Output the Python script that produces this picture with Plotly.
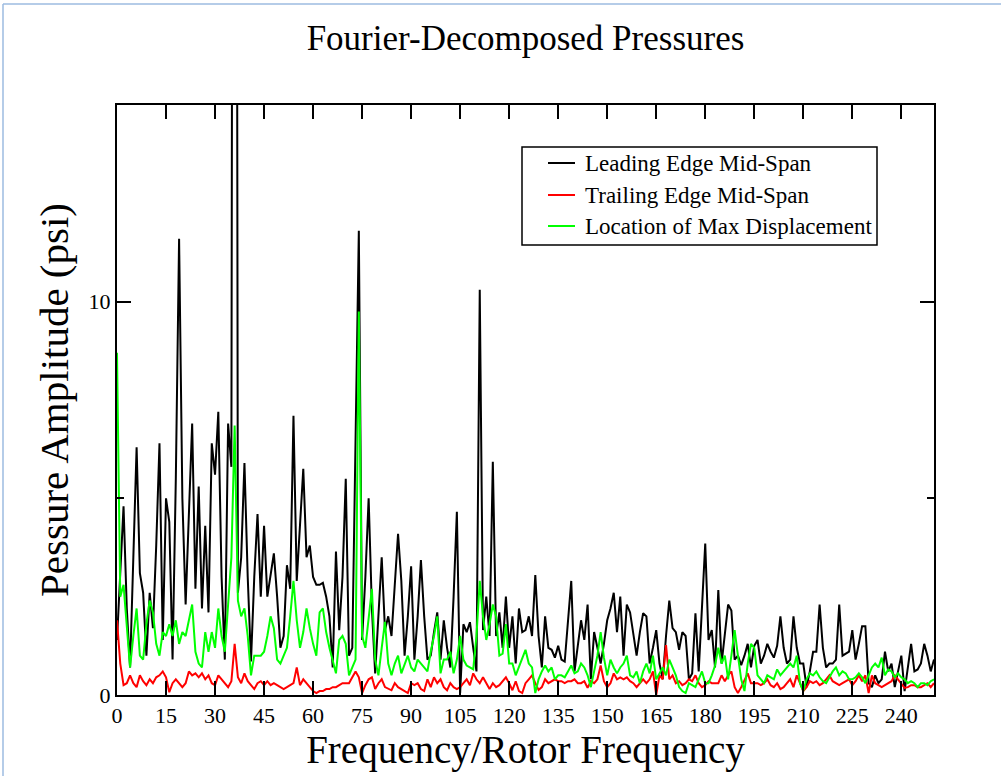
import plotly.graph_objects as go

# Frequency bins (Frequency / Rotor Frequency)
freq = list(range(0, 251))

# Leading Edge Mid-Span (psi)
leading_edge = [
    1.4, 3.0, 4.8, 2.2, 0.7, 3.5, 6.3, 3.1, 2.6, 1.0,
    2.6, 1.7, 3.8, 6.4, 1.4, 5.0, 4.4, 0.9, 5.5, 11.6,
    5.0, 2.3, 4.5, 6.9, 2.7, 5.3, 2.2, 4.3, 2.1, 6.4,
    5.6, 7.2, 3.0, 0.9, 6.9, 5.8, 60.0, 2.6, 3.5, 5.9,
    3.0, 0.85, 3.0, 4.6, 2.5, 4.3, 2.5, 3.0, 3.6, 2.5,
    1.2, 1.5, 3.3, 2.7, 7.1, 2.9, 4.2, 5.75, 3.5, 3.8,
    3.0, 2.8, 2.8, 2.85, 2.5, 2.0, 0.7, 3.65, 1.65, 3.0,
    5.5, 1.0, 1.2, 6.0, 11.8, 1.4, 3.0, 5.0, 2.2, 0.55,
    2.0, 3.5, 1.65, 2.0, 1.5, 2.8, 4.1, 2.9, 1.0, 2.0,
    3.27, 0.9, 2.0, 3.43, 2.0, 0.9, 1.0, 1.6, 2.1, 0.9,
    1.9, 1.2, 0.7, 2.5, 4.66, 0.05, 1.8, 1.6, 1.85, 1.2,
    0.6, 10.3, 1.65, 2.5, 1.5, 5.93, 1.5, 2.1, 1.2, 2.5,
    1.2, 2.0, 0.8, 2.2, 1.6, 1.65, 2.0, 1.5, 3.05, 1.5,
    0.7, 2.0, 1.2, 1.15, 0.95, 1.25, 0.9, 0.85, 2.0, 2.9,
    0.6, 1.3, 1.9, 1.4, 2.3, 0.4, 1.6, 1.2, 0.8, 1.3,
    1.9, 2.2, 2.6, 1.6, 2.5, 1.0, 2.3, 2.1, 1.5, 1.0,
    1.6, 2.08, 2.0, 0.8, 1.2, 1.65, 0.8, 0.4, 1.5, 2.4,
    1.7, 1.6, 1.15, 1.6, 1.5, 0.4, 0.55, 2.08, 0.6, 2.25,
    3.85, 1.4, 1.65, 0.7, 2.67, 0.8, 1.5, 2.3, 2.15, 0.9,
    1.0, 0.76, 1.0, 1.3, 0.7, 1.25, 1.4, 0.8, 1.0, 1.3,
    1.1, 0.95, 1.25, 2.0, 1.2, 0.8, 0.9, 2.0, 1.2, 0.8,
    0.8, 0.2, 0.6, 1.1, 1.1, 2.3, 1.2, 0.7, 0.8, 0.8,
    0.9, 2.3, 1.0, 1.05, 1.1, 1.65, 0.9, 1.3, 1.75, 1.75,
    0.3, 0.2, 0.5, 0.3, 0.4, 1.1, 0.6, 0.8, 0.2, 0.6,
    1.0, 0.1, 0.7, 1.3, 0.6, 0.65, 0.8, 1.3, 1.0, 0.6,
    0.9,
]

# Trailing Edge Mid-Span (psi)
trailing_edge = [
    1.9, 0.8, 0.25, 0.3, 0.5, 0.3, 0.2, 0.5, 0.35, 0.25,
    0.4, 0.3, 0.45, 0.5, 0.6, 0.45, 0.07, 0.3, 0.4, 0.3,
    0.2, 0.3, 0.6, 0.5, 0.55, 0.45, 0.55, 0.4, 0.5, 0.3,
    0.25, 0.5, 0.4, 0.3, 0.2, 0.35, 1.3, 0.45, 0.3, 0.55,
    0.35, 0.25, 0.15, 0.3, 0.35, 0.25, 0.35, 0.25, 0.3, 0.25,
    0.2, 0.15, 0.2, 0.25, 0.3, 0.7, 0.25, 0.4, 0.3, 0.2,
    0.1, 0.05, 0.1, 0.1, 0.15, 0.15, 0.2, 0.2, 0.25, 0.3,
    0.3, 0.3, 0.45, 0.6, 0.45, 0.05, 0.25, 0.4, 0.45, 0.15,
    0.3, 0.4, 0.2, 0.15, 0.12, 0.3, 0.2, 0.15, 0.1, 0.05,
    0.3, 0.25, 0.3, 0.15, 0.1, 0.4, 0.2, 0.45, 0.3, 0.4,
    0.2, 0.12, 0.3, 0.2, 0.15, 0.2, 0.3, 0.4, 0.25, 0.55,
    0.4, 0.3, 0.45, 0.3, 0.15, 0.3, 0.2, 0.25, 0.35, 0.45,
    0.3, 0.12, 0.35, 0.1, 0.05, 0.3, 0.4, 0.5, 0.3, 0.13,
    0.2, 0.4, 0.3, 0.35, 0.4, 0.35, 0.35, 0.3, 0.35, 0.35,
    0.4, 0.3, 0.3, 0.35, 0.18, 0.35, 0.3, 0.4, 0.75, 0.35,
    0.2, 0.3, 0.55, 0.4, 0.45, 0.4, 0.45, 0.35, 0.3, 0.2,
    0.3, 0.4, 0.3, 0.4, 0.6, 0.0, 0.5, 0.4, 1.27, 0.4,
    0.5, 0.3, 0.35, 0.25, 0.3, 0.4, 0.35, 0.5, 0.3, 0.2,
    0.25, 0.35, 0.3, 0.3, 0.3, 0.5, 0.35, 0.5, 0.6, 0.2,
    0.05, 0.2, 0.4, 0.55, 0.3, 0.3, 0.3, 0.25, 0.3, 0.4,
    0.25, 0.2, 0.3, 0.15, 0.2, 0.3, 0.4, 0.2, 0.5, 0.3,
    0.1, 0.2, 0.35, 0.3, 0.35, 0.25, 0.3, 0.4, 0.5, 0.35,
    0.3, 0.25, 0.3, 0.35, 0.4, 0.25, 0.35, 0.5, 0.35, 0.5,
    0.05, 0.5, 0.3, 0.25, 0.2, 0.25, 0.3, 0.35, 0.5, 0.4,
    0.3, 0.18, 0.2, 0.25, 0.25, 0.2, 0.2, 0.25, 0.3, 0.2,
    0.3,
]

# Location of Max Displacement (psi)
max_displacement = [
    8.7, 2.5, 2.8, 1.8, 0.7, 1.5, 2.2, 1.0, 0.9, 1.8,
    2.4, 2.1, 1.3, 1.0, 1.6, 1.5, 1.8, 1.5, 1.9, 1.3,
    1.6, 1.5, 1.9, 2.3, 1.1, 0.8, 0.7, 1.6, 1.1, 1.6,
    1.2, 2.2, 1.5, 1.1, 2.3, 3.5, 6.85, 2.4, 2.0, 2.2,
    1.5, 0.5, 1.0, 1.0, 1.0, 1.1, 1.5, 2.0, 1.7, 0.9,
    0.8, 1.0, 1.2, 2.0, 2.9, 1.9, 1.2, 1.6, 2.2, 1.7,
    1.3, 1.0, 2.1, 2.2, 1.6, 1.2, 0.9, 0.55, 1.4, 1.5,
    1.3, 0.5, 0.7, 0.9, 9.75, 1.5, 1.2, 2.0, 2.7, 0.9,
    0.5, 1.2, 1.86, 0.8, 0.5, 0.8, 1.0, 0.55, 0.8, 1.0,
    0.7, 0.6, 0.9, 0.8, 0.7, 0.6, 1.1, 1.5, 2.0, 0.55,
    0.9, 0.9, 1.1, 0.55, 0.9, 1.5, 0.9, 0.75, 0.7, 0.65,
    1.5, 2.9, 2.0, 1.4, 1.8, 2.3, 2.0, 1.0, 1.05, 1.8,
    0.8, 0.8, 0.5, 0.7, 0.9, 1.15, 0.8, 0.7, 0.05, 0.4,
    0.6, 0.75, 0.6, 0.7, 0.4, 0.5, 0.5, 0.45, 0.6, 0.75,
    0.55, 0.6, 0.8, 0.7, 0.5, 0.2, 0.6, 1.0, 1.6, 0.95,
    0.5, 0.9, 0.7, 0.55, 0.7, 0.8, 1.0, 0.5, 0.45, 0.6,
    0.3, 0.6, 0.8, 0.55, 1.0, 0.4, 0.55, 0.7, 0.5, 0.9,
    0.7, 0.5, 0.2, 0.1, 0.05, 0.3, 0.25, 0.2, 0.4, 0.6,
    0.3, 0.3, 0.5, 0.75, 1.2, 0.8, 1.0, 0.4, 1.0, 1.65,
    1.0, 0.4, 0.1, 0.8, 1.3, 1.2, 0.5, 0.4, 0.3, 0.5,
    0.45, 0.4, 0.65, 0.5, 0.6, 0.7, 0.8, 0.7, 1.0, 0.3,
    0.1, 0.4, 0.55, 0.5, 0.6, 0.45, 0.35, 0.3, 0.45, 0.6,
    0.7, 0.5, 0.6, 0.55, 0.4, 0.4, 0.45, 0.55, 0.45, 0.3,
    0.5, 0.7, 0.8, 0.7, 0.95, 0.5, 0.65, 0.6, 0.45, 0.55,
    0.45, 0.4, 0.3, 0.35, 0.3, 0.2, 0.3, 0.3, 0.25, 0.35,
    0.4,
]

series_names = ["Leading Edge Mid-Span", "Trailing Edge Mid-Span", "Location of Max Displacement"]
series_colors = ["#000000", "#ff0000", "#00ff00"]
series_values = [leading_edge, trailing_edge, max_displacement]

x_ticks = list(range(0, 241, 15))
y_ticks = [0, 10]

FONT = "Liberation Serif, Times New Roman, serif"

# plot-area geometry (pixels) used to place the hand-drawn legend box
L, R, T, B = 117, 934, 105, 695
def px(x):
    return (x - L) / (R - L)
def py(y):
    return (B - y) / (B - T)

fig = go.Figure()
for name, color, vals in zip(series_names, series_colors, series_values):
    fig.add_trace(go.Scatter(
        x=freq, y=vals, mode="lines", name=name,
        line=dict(color=color, width=2),
    ))

shapes = [
    # page frame lines
    dict(type="line", xref="paper", yref="paper",
         x0=px(3), x1=px(3), y0=py(4), y1=py(776),
         line=dict(color="#9dbbe0", width=1.5)),
    dict(type="line", xref="paper", yref="paper",
         x0=px(3), x1=px(1001), y0=py(4), y1=py(4),
         line=dict(color="#9dbbe0", width=1.5)),
    # legend box
    dict(type="rect", xref="paper", yref="paper",
         x0=px(522), x1=px(877), y0=py(147), y1=py(245),
         fillcolor="white", line=dict(color="black", width=1.5), layer="above"),
]
annotations = []
legend_rows = [163, 195, 226]
for name, color, yrow in zip(series_names, series_colors, legend_rows):
    shapes.append(dict(type="line", xref="paper", yref="paper",
                       x0=px(548), x1=px(575), y0=py(yrow), y1=py(yrow),
                       line=dict(color=color, width=2), layer="above"))
    annotations.append(dict(text=name, xref="paper", yref="paper",
                            x=px(583), y=py(yrow), xanchor="left", yanchor="middle",
                            showarrow=False,
                            font=dict(family=FONT, size=23, color="black")))

fig.update_layout(
    width=1005, height=776,
    margin=dict(l=117, r=71, t=105, b=81),
    paper_bgcolor="white", plot_bgcolor="white",
    font=dict(family=FONT, color="black"),
    title=dict(text="Fourier-Decomposed Pressures", x=0.5, xref="paper",
               y=1 - 38 / 776, yref="container", yanchor="middle",
               font=dict(family=FONT, size=35, color="black")),
    showlegend=False,
    xaxis=dict(
        range=[0, 250], tickmode="array", tickvals=x_ticks,
        ticks="inside", ticklen=14, tickwidth=2, tickcolor="black",
        showline=True, linewidth=2, linecolor="black", mirror="allticks",
        showgrid=False, zeroline=False,
        tickfont=dict(family=FONT, size=22, color="black"),
        title=dict(text="Frequency/Rotor Frequency", standoff=0,
                   font=dict(family=FONT, size=39, color="black")),
    ),
    yaxis=dict(
        range=[0, 15], tickmode="array", tickvals=y_ticks,
        ticks="inside", ticklen=14, tickwidth=2, tickcolor="black",
        showline=True, linewidth=2, linecolor="black", mirror="allticks",
        showgrid=False, zeroline=False,
        minor=dict(tickvals=[5], ticks="inside", ticklen=7, tickwidth=2, tickcolor="black", showgrid=False),
        tickfont=dict(family=FONT, size=22, color="black"),
        title=dict(text="Pessure Amplitude (psi)", standoff=7,
                   font=dict(family=FONT, size=41, color="black")),
    ),
    shapes=shapes,
    annotations=annotations,
)

fig.write_html("out.html", config={"displayModeBar": False},
               post_script="document.body.style.margin='0';")
